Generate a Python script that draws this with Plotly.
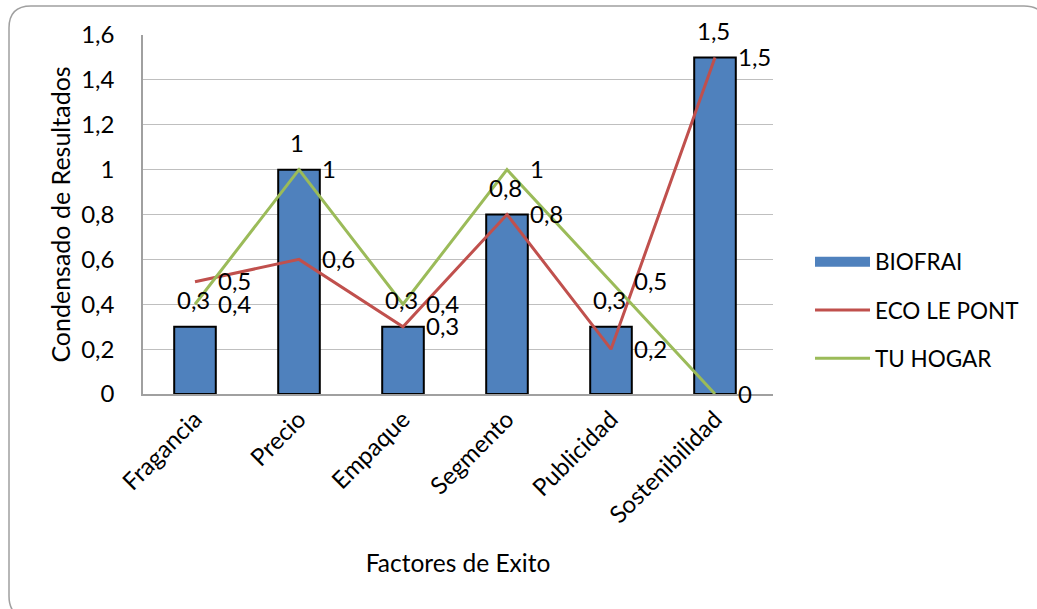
import plotly.graph_objects as go

categories = ["Fragancia", "Precio", "Empaque", "Segmento", "Publicidad", "Sostenibilidad"]
biofrai = [0.3, 1.0, 0.3, 0.8, 0.3, 1.5]
eco_le_pont = [0.5, 0.6, 0.3, 0.8, 0.2, 1.5]
tu_hogar = [0.4, 1.0, 0.4, 1.0, 0.5, 0.0]
y_ticks = [0, 0.2, 0.4, 0.6, 0.8, 1.0, 1.2, 1.4, 1.6]

FONT = "Lato"
FS = 24
W, H = 1037, 609
L, R, T, B = 143, 264, 35, 215
PW, PH = W - L - R, H - T - B

BLUE, RED, GREEN = "#4F81BD", "#C0504D", "#9BBB59"


def fmt(v):
    return f"{v:g}".replace(".", ",")


fig = go.Figure()
fig.add_trace(go.Bar(
    x=categories, y=biofrai, name="BIOFRAI",
    marker=dict(color=BLUE, line=dict(color="#000000", width=2)),
    width=0.4, showlegend=False,
))
# legend entry for the bars (wide box like the original)
fig.add_trace(go.Scatter(
    x=[None], y=[None], name="BIOFRAI", mode="lines",
    line=dict(color=BLUE, width=12), legendgroup="a",
))
fig.add_trace(go.Scatter(
    x=categories, y=eco_le_pont, name="ECO LE PONT", mode="lines",
    line=dict(color=RED, width=3), legendgroup="b",
))
fig.add_trace(go.Scatter(
    x=categories, y=tu_hogar, name="TU HOGAR", mode="lines",
    line=dict(color=GREEN, width=3), legendgroup="c",
))

ann = []
for c, v in zip(categories, biofrai):
    ann.append(dict(x=c, y=v, text=fmt(v), showarrow=False, xanchor="center",
                    yanchor="middle", yshift=27, xshift=-2,
                    font=dict(family=FONT, size=FS, color="#000")))
for series in (eco_le_pont, tu_hogar):
    for c, v in zip(categories, series):
        ann.append(dict(x=c, y=v, text=fmt(v), showarrow=False, xanchor="left",
                        yanchor="middle", xshift=21, yshift=1,
                        font=dict(family=FONT, size=FS, color="#000")))


def px2x(px):
    return (px - L) / PW


def py2y(py):
    return (H - B - py) / PH


x0, x1 = px2x(9), px2x(1046)
yt, yb = py2y(6), py2y(618)
rx, ry = 22 / PW, 22 / PH
path = (f"M {x0+rx},{yt} L {x1-rx},{yt} Q {x1},{yt} {x1},{yt-ry} "
        f"L {x1},{yb+ry} Q {x1},{yb} {x1-rx},{yb} L {x0+rx},{yb} "
        f"Q {x0},{yb} {x0},{yb+ry} L {x0},{yt-ry} Q {x0},{yt} {x0+rx},{yt} Z")

fig.update_layout(
    width=W, height=H,
    margin=dict(l=L, r=R, t=T, b=B),
    paper_bgcolor="white", plot_bgcolor="white",
    separators=",.",
    font=dict(family=FONT, size=FS, color="#000"),
    showlegend=True,
    legend=dict(x=px2x(810), y=py2y(310), xanchor="left", yanchor="middle",
                tracegroupgap=16, itemwidth=55,
                font=dict(family=FONT, size=22.5, color="#000"),
                bgcolor="rgba(0,0,0,0)"),
    annotations=ann,
    shapes=[dict(type="path", path=path, xref="paper", yref="paper",
                 line=dict(color="#A0A0A0", width=1.5), layer="below")],
)
fig.update_xaxes(
    showline=True, linecolor="#A0A0A0", linewidth=1.5,
    tickangle=-45, ticks="", showgrid=False,
    tickfont=dict(family=FONT, size=FS),
    title=dict(text="Factores de Exito", font=dict(family=FONT, size=24.5), standoff=28),
    automargin=False,
)
fig.update_yaxes(
    range=[0, 1.6], tickvals=y_ticks, showline=True, linecolor="#A0A0A0", linewidth=1.5,
    showgrid=True, gridcolor="#BFBFBF", gridwidth=1, ticks="", zeroline=False,
    tickfont=dict(family=FONT, size=FS), ticklabelstandoff=22,
    title=dict(text="Condensado de Resultados", font=dict(family=FONT, size=25), standoff=3),
    automargin=False,
)
for tr in fig.data:
    tr.cliponaxis = False

fig.write_html("out.html")
